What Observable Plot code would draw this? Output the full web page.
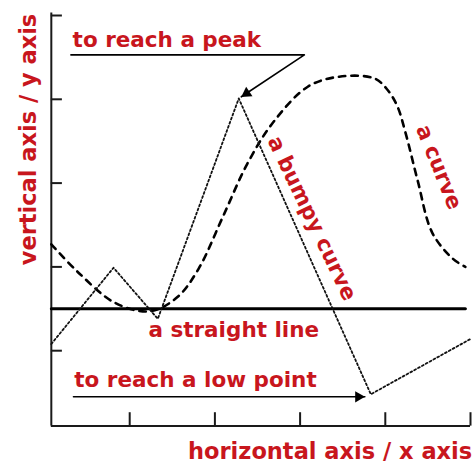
<!DOCTYPE html>
<html>
<head>
<meta charset="utf-8">
<script src="https://cdn.jsdelivr.net/npm/d3@7"></script>
<script src="https://cdn.jsdelivr.net/npm/@observablehq/plot@0.6"></script>
<style>
  html, body { margin: 0; padding: 0; background: #fff; }
  #chart svg { display: block; }
</style>
</head>
<body>
<div id="chart"></div>
<script>
// ---- data (data units: x 0..5, y 0..5) ----
const xTicks = [1, 2, 3, 4, 5];
const yTicks = [1, 2, 3, 4, 5];

// "a bumpy curve" (fine dotted polyline)
const bumpyX = [0.08, 0.81, 1.33, 2.28, 3.83, 5.0];
const bumpyY = [1.08, 1.99, 1.38, 4.01, 0.48, 1.14];

// "a curve" (dashed smooth curve)
const curveX = [0.08, 0.39, 0.83, 1.24, 1.56, 1.81, 2.09, 2.38, 2.68, 3.09, 3.46, 3.87, 4.02, 4.14, 4.24, 4.38, 4.55, 4.79, 4.94];
const curveY = [2.27, 1.94, 1.57, 1.47, 1.64, 1.98, 2.59, 3.23, 3.72, 4.15, 4.27, 4.25, 4.12, 3.92, 3.59, 3.03, 2.41, 2.10, 2.00];

// "a straight line"
const straightX = [0.08, 4.94];
const straightY = [1.5, 1.5];

// arrows
const peakArrowX = [0.31, 3.05, 2.31];
const peakArrowY = [4.53, 4.53, 4.03];
const lowArrowX = [0.34, 3.76];
const lowArrowY = [0.45, 0.45];

// axis extents
const axisMinX = 0.08, axisMaxX = 5.0;
const axisMinY = 0.1, axisMaxY = 5.0;

// labels
const labelTexts = ["to reach a peak", "a straight line", "to reach a low point"];
const labelX = [0.33, 1.22, 0.35];
const labelY = [4.71, 1.25, 0.65];
const rotLabelTexts = ["a bumpy curve", "a curve"];
const rotLabelX = [3.14, 4.63];
const rotLabelY = [2.58, 3.19];
const rotLabelAngle = [64.5, 68];
const xAxisTitle = "horizontal axis / x axis";
const yAxisTitle = "vertical axis / y axis";

// ---- build tables ----
const zip = (xs, ys) => xs.map((x, i) => ({x, y: ys[i]}));
const bumpy = zip(bumpyX, bumpyY);
const curve = zip(curveX, curveY);
const straight = zip(straightX, straightY);
const peakArrow = zip(peakArrowX, peakArrowY);
const lowArrow = zip(lowArrowX, lowArrowY);
const labels = labelTexts.map((t, i) => ({t, x: labelX[i], y: labelY[i]}));
const rotLabels = rotLabelTexts.map((t, i) => ({t, x: rotLabelX[i], y: rotLabelY[i], a: rotLabelAngle[i]}));

const RED = "#c8161d";
const INK = "#1a1a1a";
const font = {fontFamily: "DejaVu Sans", fontWeight: "bold", fontSize: 21.5, fill: RED};
const titleFont = {...font, fontSize: 22.5};

const chart = Plot.plot({
  width: 472,
  height: 468,
  marginLeft: 44,
  marginRight: 2,
  marginTop: 15,
  marginBottom: 34,
  x: {domain: [0, 5], axis: null},
  y: {domain: [0, 5], axis: null},
  style: {background: "#fff", overflow: "visible"},
  marks: [
    // axes
    Plot.ruleX([axisMinX], {y1: axisMinY, y2: axisMaxY + 0.03, stroke: INK, strokeWidth: 2}),
    Plot.ruleY([axisMinY], {x1: axisMinX, x2: axisMaxX, stroke: INK, strokeWidth: 2}),
    Plot.ruleX(xTicks, {x: d => d, y1: axisMinY, y2: axisMinY + 0.16, stroke: INK, strokeWidth: 2}),
    Plot.ruleY(yTicks, {y: d => d, x1: axisMinX, x2: axisMinX + 0.13, stroke: INK, strokeWidth: 2}),
    // straight line
    Plot.line(straight, {x: "x", y: "y", stroke: "#000", strokeWidth: 3}),
    // dashed curve
    Plot.line(curve, {x: "x", y: "y", curve: "catmull-rom", stroke: "#000", strokeWidth: 2.6, strokeDasharray: "6.5,6"}),
    // dotted bumpy line
    Plot.line(bumpy, {x: "x", y: "y", stroke: "#111", strokeWidth: 1.8, strokeDasharray: "2,2.4"}),
    // arrows
    Plot.line(peakArrow, {x: "x", y: "y", stroke: "#000", strokeWidth: 1.6}),
    Plot.line(lowArrow, {x: "x", y: "y", stroke: "#000", strokeWidth: 1.6}),
    Plot.dot([peakArrow[peakArrow.length - 1]], {x: "x", y: "y", symbol: "triangle", r: 4.2, fill: "#000", stroke: "none", rotate: 236, dx: 5.3, dy: -3.5}),
    Plot.dot([lowArrow[lowArrow.length - 1]], {x: "x", y: "y", symbol: "triangle", r: 4.2, fill: "#000", stroke: "none", rotate: 90, dx: -6.4}),
    // labels
    Plot.text(labels, {x: "x", y: "y", text: "t", textAnchor: "start", ...font}),
    Plot.text(rotLabels, {x: "x", y: "y", text: "t", rotate: "a", textAnchor: "middle", ...font}),
    Plot.text([xAxisTitle], {x: 5.02, y: -0.21, text: d => d, textAnchor: "end", ...titleFont}),
    Plot.text([yAxisTitle], {x: -0.18, y: 3.52, text: d => d, rotate: -90, textAnchor: "middle", ...titleFont})
  ]
});
document.getElementById("chart").appendChild(chart);
</script>
</body>
</html>
